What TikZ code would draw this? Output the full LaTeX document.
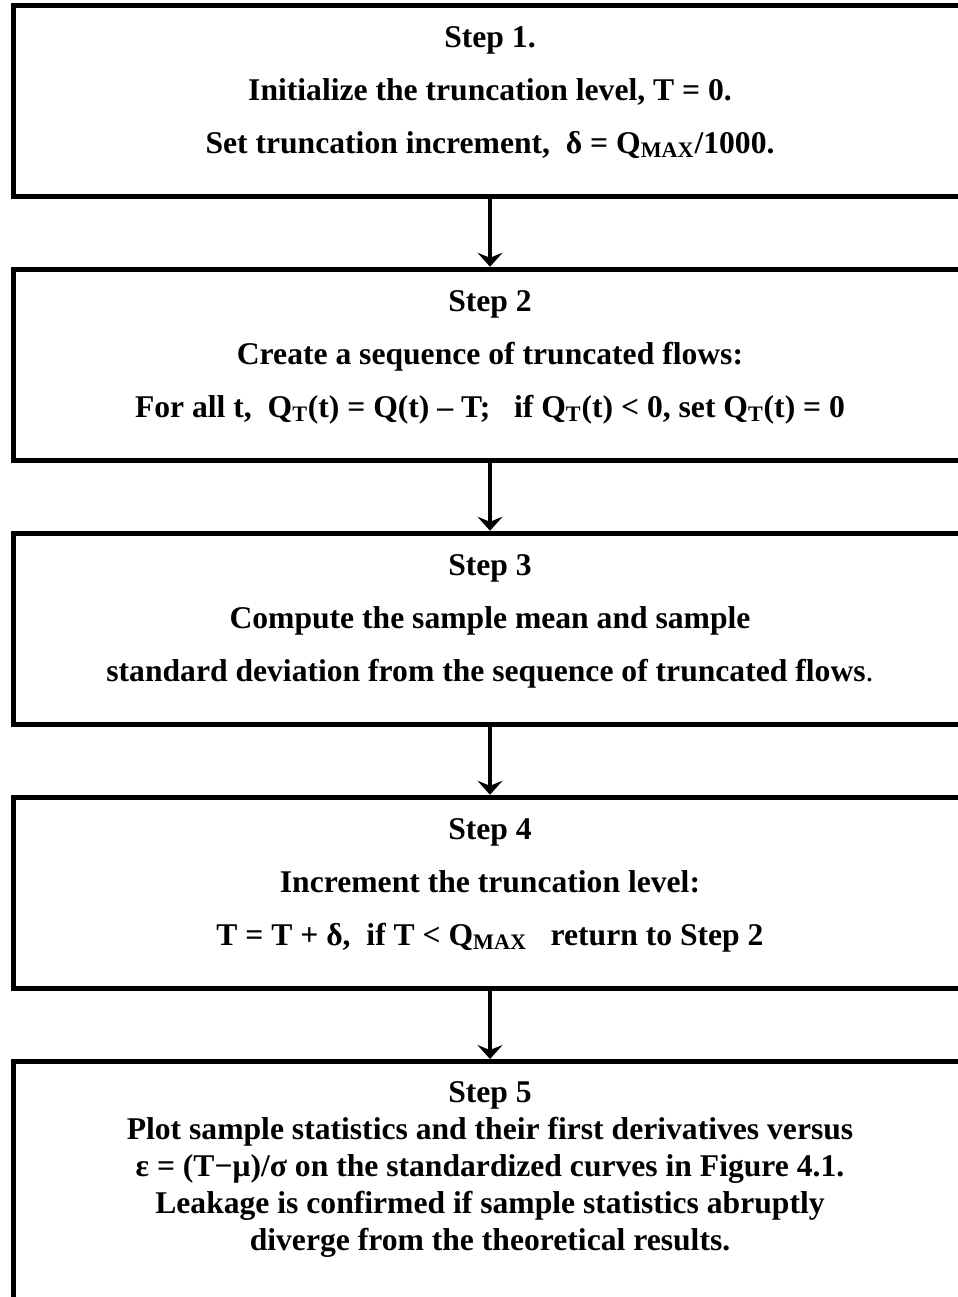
\documentclass[tikz,border=0pt]{standalone}
\usepackage{fontspec}
\setmainfont{Liberation Serif}
\usetikzlibrary{arrows.meta}

\tikzset{
  stepbox/.style={draw, line width=2.85pt, minimum width=19.08cm, minimum height=3.83cm, inner sep=0pt},
  steptext/.style={anchor=north, align=center, inner sep=0pt, font=\fontsize{18}{30.1}\selectfont\bfseries},
  flow/.style={-{Stealth[length=0.28cm, width=0.5cm, inset=0.1cm]}, line width=2.5pt}
}

\begin{document}
\begin{tikzpicture}[x=0.02cm, y=-0.02cm]
\useasboundingbox (0,0) rectangle (957,1297);
% boxes
\node (b1) at (490,101) [stepbox] {};
\node (b2) at (490,365) [stepbox] {};
\node (b3) at (490,629) [stepbox] {};
\node (b4) at (490,893) [stepbox] {};
\node (b5) at (490,1211.5) [stepbox, minimum height=6cm] {};
% texts
\node (t1) at (490,26) [steptext] {Step 1.\\
  Initialize the truncation level, T = 0.\\
  Set truncation increment,\ \ δ = Q\textsubscript{MAX}/1000.};
\node (t2) at (490,290) [steptext] {Step 2\\
  Create a sequence of truncated flows:\\
  For all t,\ \ Q\textsubscript{T}(t) = Q(t) – T;\ \ \ if Q\textsubscript{T}(t) < 0, set Q\textsubscript{T}(t) = 0};
\node (t3) at (490,554) [steptext] {Step 3\\
  Compute the sample mean and sample\\
  standard deviation from the sequence of truncated flows{\mdseries .}};
\node (t4) at (490,818) [steptext] {Step 4\\
  Increment the truncation level:\\
  T = T + δ,\ \ if T < Q\textsubscript{MAX}\ \ \ return to Step 2};
\node (t5) at (490,1081.5) [steptext, font=\fontsize{18}{21}\selectfont\bfseries] {Step 5\\
  Plot sample statistics and their first derivatives versus\\
  ε = (T−μ)/σ on the standardized curves in Figure 4.1.\\
  Leakage is confirmed if sample statistics abruptly\\
  diverge from the theoretical results.};
% arrows
\draw[flow] (b1) -- (b2);
\draw[flow] (b2) -- (b3);
\draw[flow] (b3) -- (b4);
\draw[flow] (b4) -- (b5);
\end{tikzpicture}
\end{document}
